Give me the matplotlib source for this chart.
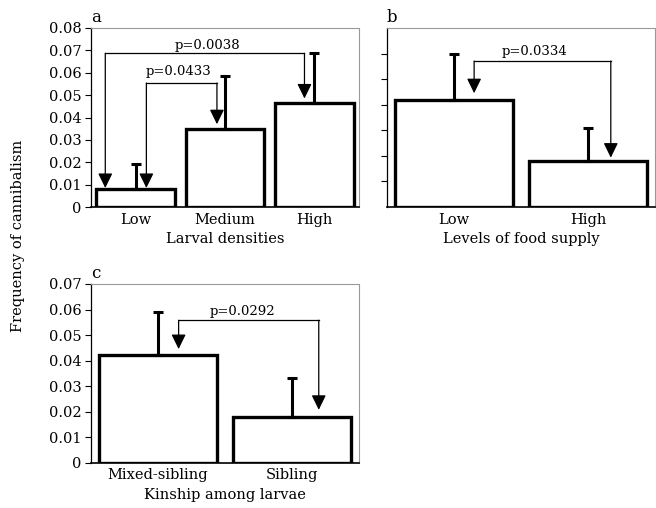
import matplotlib
matplotlib.use("Agg")
import matplotlib.pyplot as plt
import numpy as np

plt.rcParams["font.family"] = ["DejaVu Serif"]

# panel a: larval densities
dens_labels = ["Low", "Medium", "High"]
dens_mean = [0.008, 0.035, 0.0465]
dens_err = [0.011, 0.0235, 0.0225]

# panel b: food supply
food_labels = ["Low", "High"]
food_mean = [0.042, 0.018]
food_err = [0.018, 0.013]

# panel c: kinship
kin_labels = ["Mixed-sibling", "Sibling"]
kin_mean = [0.042, 0.018]
kin_err = [0.017, 0.015]

# (left bar, right bar, p label)
dens_tests = [(0, 2, "p=0.0038"), (0, 1, "p=0.0433")]
food_tests = [(0, 1, "p=0.0334")]
kin_tests = [(0, 1, "p=0.0292")]


def draw_panel(ax, labels, means, errs, ylim, ticks, show_ticklabels, xlabel, letter):
    x = np.arange(len(labels))
    ax.bar(x, means, width=0.88, color="white", edgecolor="black", linewidth=2.4, zorder=2)
    ax.errorbar(x, means, yerr=[np.zeros(len(errs)), errs], fmt="none",
                ecolor="black", elinewidth=2.2, capsize=3.5, capthick=2.2, zorder=3)
    ax.set_xlim(-0.5, len(labels) - 0.5)
    ax.set_ylim(*ylim)
    ax.set_yticks(ticks)
    if show_ticklabels:
        ax.set_yticklabels(["0"] + [f"{t:.2f}" for t in ticks[1:]], fontsize=10.5)
    else:
        ax.set_yticklabels([])
    ax.set_xticks(x)
    ax.set_xticklabels(labels, fontsize=10.5)
    ax.tick_params(axis="x", length=0, pad=4)
    ax.tick_params(axis="y", length=4, width=0.8, pad=3)
    ax.set_xlabel(xlabel, fontsize=10.5, labelpad=4)
    for s in ["top", "right"]:
        ax.spines[s].set_color("#999999")
        ax.spines[s].set_linewidth(0.8)
    ax.spines["left"].set_linewidth(0.9)
    ax.spines["bottom"].set_linewidth(1.2)
    ax.text(0.0, 1.01, letter, transform=ax.transAxes, fontsize=12,
            ha="left", va="bottom")


def draw_bracket(ax, x1, x2, y, tip1, tip2, label, tx, ty):
    ax.plot([x1, x2], [y, y], color="black", lw=0.9, zorder=4)
    for xx, tip in [(x1, tip1), (x2, tip2)]:
        ax.annotate("", xy=(xx, tip), xytext=(xx, y),
                    arrowprops=dict(arrowstyle="-|>,head_length=0.45,head_width=0.22",
                                    mutation_scale=20, lw=0.9, color="black",
                                    shrinkA=0, shrinkB=0), zorder=4)
    ax.text(tx, ty, label, fontsize=9.5, ha="center", va="center", zorder=5)


fig = plt.figure(figsize=(6.56, 5.08), dpi=100)

ax_a = fig.add_axes([0.1387, 0.5925, 0.4085, 0.3524])
draw_panel(ax_a, dens_labels, dens_mean, dens_err, (0, 0.08),
           [0, 0.01, 0.02, 0.03, 0.04, 0.05, 0.06, 0.07, 0.08], True,
           "Larval densities", "a")
draw_bracket(ax_a, -0.34, 2 - 0.11, 0.0687, 0.0085, 0.0485, dens_tests[0][2], 0.8, 0.072)
draw_bracket(ax_a, 0.12, 1 - 0.09, 0.0554, 0.0085, 0.037, dens_tests[1][2], 0.48, 0.0605)

ax_b = fig.add_axes([0.59, 0.5925, 0.4085, 0.3524])
draw_panel(ax_b, food_labels, food_mean, food_err, (0, 0.07),
           [0.01, 0.02, 0.03, 0.04, 0.05, 0.06], False,
           "Levels of food supply", "b")
draw_bracket(ax_b, 0.15, 1.17, 0.0571, 0.0445, 0.0193, food_tests[0][2], 0.6, 0.0608)

ax_c = fig.add_axes([0.1387, 0.0892, 0.4085, 0.3518])
draw_panel(ax_c, kin_labels, kin_mean, kin_err, (0, 0.07),
           [0, 0.01, 0.02, 0.03, 0.04, 0.05, 0.06, 0.07], True,
           "Kinship among larvae", "c")
draw_bracket(ax_c, 0.154, 1.2, 0.0558, 0.0445, 0.0207, kin_tests[0][2], 0.63, 0.0594)

fig.text(0.028, 0.535, "Frequency of cannibalism", rotation=90, fontsize=10.5,
         ha="center", va="center")

fig.savefig("out.png", dpi=100)
